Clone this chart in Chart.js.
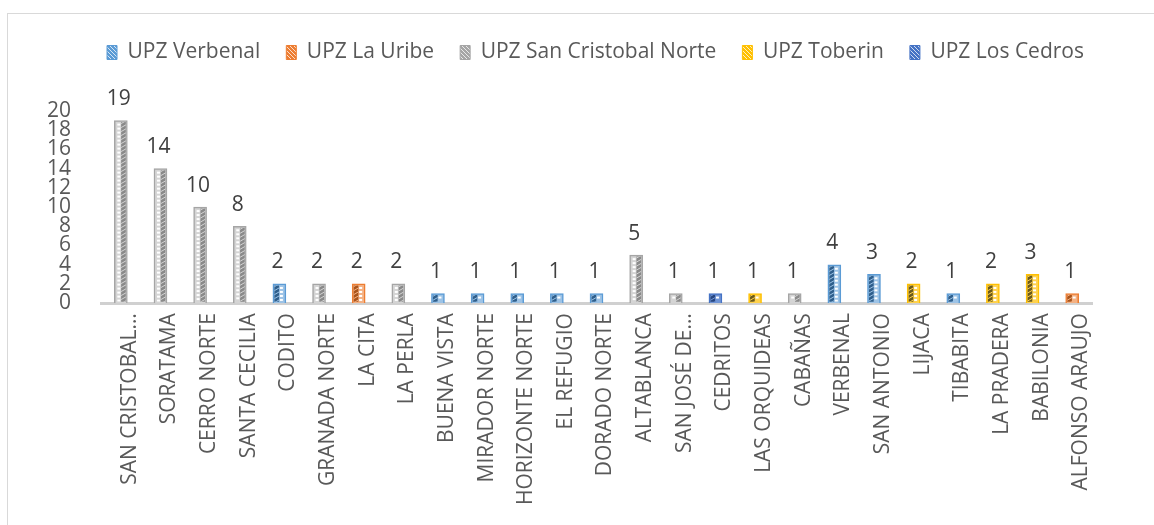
<!DOCTYPE html>
<html>
<head>
<meta charset="utf-8">
<script src="https://cdn.jsdelivr.net/npm/chart.js@4.4.1/dist/chart.umd.min.js"></script>
<style>
html, body { margin: 0; padding: 0; background: #fff; }
#wrap { position: relative; width: 1154px; height: 525px; overflow: hidden; }
#frame { position: absolute; left: 7px; top: 13px; width: 1300px; height: 700px; border: 1px solid #d9d9d9; }
canvas { position: absolute; left: 0; top: 0; }
</style>
</head>
<body>
<div id="wrap">
  <div id="frame"></div>
  <canvas id="chart" width="1154" height="525"></canvas>
</div>
<script>
// Data
const barrios = ['SAN CRISTOBAL…', 'SORATAMA', 'CERRO NORTE', 'SANTA CECILIA', 'CODITO', 'GRANADA NORTE',
    'LA CITA', 'LA PERLA', 'BUENA VISTA', 'MIRADOR NORTE', 'HORIZONTE NORTE', 'EL REFUGIO', 'DORADO NORTE',
    'ALTABLANCA', 'SAN JOSÉ DE…', 'CEDRITOS', 'LAS ORQUIDEAS', 'CABAÑAS', 'VERBENAL', 'SAN ANTONIO',
    'LIJACA', 'TIBABITA', 'LA PRADERA', 'BABILONIA', 'ALFONSO ARAUJO'];
const casos = [19, 14, 10, 8, 2, 2, 2, 2, 1, 1, 1, 1, 1, 5, 1, 1, 1, 1, 4, 3, 2, 1, 2, 3, 1];
// index into upzNombres for each barrio
const upzDeBarrio = [2, 2, 2, 2, 0, 2, 1, 2, 0, 0, 0, 0, 0, 2, 2, 4, 3, 2, 0, 0, 3, 0, 3, 3, 1];
const upzNombres = ['UPZ Verbenal', 'UPZ La Uribe', 'UPZ San Cristobal Norte', 'UPZ Toberin', 'UPZ Los Cedros'];
const yMin = 0, yMax = 20, yStep = 2;

// Styles per UPZ
const estilos = [
    { fondo: '#9dc3e6', borde: '#5b9bd5', oscuro: '#2f5f8c', ladoOscuro: 'left' },
    { fondo: '#f4b183', borde: '#ed7d31', oscuro: '#a9541b', ladoOscuro: 'left' },
    { fondo: '#d4d4d4', borde: '#a5a5a5', oscuro: '#8a8a8a', ladoOscuro: 'right' },
    { fondo: '#ffd24d', borde: '#ffc000', oscuro: '#6b5a1c', ladoOscuro: 'left' },
    { fondo: '#6f94d6', borde: '#4472c4', oscuro: '#27467f', ladoOscuro: 'left' }
];
const fuente = '"Open Sans", "DejaVu Sans", sans-serif';
const gris = '#595959';

function patronLeyenda(color) {
    const c = document.createElement('canvas');
    c.width = 4; c.height = 4;
    const g = c.getContext('2d');
    g.fillStyle = color;
    g.fillRect(0, 0, 4, 4);
    g.fillStyle = 'rgba(255,255,255,0.75)';
    g.fillRect(0, 0, 1, 1);
    g.fillRect(1, 1, 1, 1);
    g.fillRect(2, 2, 1, 1);
    g.fillRect(3, 3, 1, 1);
    return g.createPattern(c, 'repeat');
}

const datasets = upzNombres.map((nombre, s) => ({
    label: nombre,
    data: casos.map((v, i) => upzDeBarrio[i] === s ? v : null),
    backgroundColor: estilos[s].fondo,
    borderColor: estilos[s].borde,
    borderWidth: 1.5,
    barThickness: 13,
    grouped: false
}));

// Bar texture + value labels
const barrasPlugin = {
    id: 'barras',
    afterDatasetsDraw(chart) {
        const ctx = chart.ctx;
        chart.data.datasets.forEach((ds, s) => {
            const meta = chart.getDatasetMeta(s);
            const st = estilos[s];
            meta.data.forEach((el, i) => {
                const v = ds.data[i];
                if (v === null) return;
                const w = el.width, x0 = el.x - w / 2, top = el.y, base = el.base;
                ctx.save();
                ctx.beginPath();
                ctx.rect(x0 + 1.5, top + 1.5, w - 3, base - top - 3);
                ctx.clip();
                const ancho = w * 0.4;
                const xd = st.ladoOscuro === 'right' ? x0 + w - ancho - 1 : x0 + 1;
                const xl = st.ladoOscuro === 'right' ? x0 + 3 : x0 + w - 6;
                ctx.fillStyle = st.oscuro;
                ctx.fillRect(xd, top, ancho, base - top);
                ctx.strokeStyle = st.fondo;
                ctx.lineWidth = 1;
                for (let y = top; y < base + 4; y += 4) {
                    ctx.beginPath();
                    ctx.moveTo(xd, y + 3);
                    ctx.lineTo(xd + ancho, y);
                    ctx.stroke();
                }
                ctx.fillStyle = '#ffffff';
                for (let y = top + 3; y < base - 3; y += 4) {
                    ctx.fillRect(xl, y, 3, 2);
                }
                ctx.restore();

                ctx.save();
                ctx.fillStyle = '#404040';
                ctx.font = '21px ' + fuente;
                ctx.textAlign = 'center';
                ctx.textBaseline = 'bottom';
                ctx.fillText(String(v), el.x - 2, top - 11);
                ctx.restore();
            });
        });
    }
};

// Extra space under the legend, and legend nudged right
const margenLeyenda = {
    id: 'margenLeyenda',
    beforeInit(chart) {
        const fit = chart.legend.fit;
        chart.legend.fit = function () {
            fit.bind(chart.legend)();
            this.height += 38;
        };
    },
    afterLayout(chart) {
        chart.legend.left += 37;
        chart.legend.right += 37;
    }
};

new Chart(document.getElementById('chart').getContext('2d'), {
    type: 'bar',
    data: { labels: barrios, datasets: datasets },
    options: {
        responsive: false,
        animation: false,
        layout: { padding: { left: 25, right: 62, top: 16, bottom: 18 } },
        scales: {
            x: {
                grid: { display: false },
                border: { display: true, color: '#d0d0d0', width: 3 },
                ticks: {
                    autoSkip: false,
                    minRotation: 90,
                    maxRotation: 90,
                    padding: 2,
                    labelOffset: 9,
                    color: gris,
                    font: { family: fuente, size: 21 }
                }
            },
            y: {
                min: yMin,
                max: yMax,
                grid: { display: false },
                border: { display: false },
                ticks: {
                    stepSize: yStep,
                    autoSkip: false,
                    padding: 22,
                    color: gris,
                    font: { family: fuente, size: 21, lineHeight: 1 }
                }
            }
        },
        plugins: {
            legend: {
                display: true,
                position: 'top',
                labels: {
                    color: gris,
                    boxWidth: 10,
                    boxHeight: 14,
                    padding: 26,
                    font: { family: fuente, size: 21 },
                    generateLabels(chart) {
                        return chart.data.datasets.map((ds, s) => ({
                            text: ds.label,
                            fillStyle: patronLeyenda(estilos[s].borde),
                            strokeStyle: estilos[s].borde,
                            lineWidth: 1,
                            fontColor: gris,
                            hidden: false,
                            datasetIndex: s
                        }));
                    }
                }
            },
            tooltip: { enabled: false }
        }
    },
    plugins: [margenLeyenda, barrasPlugin]
});
</script>
</body>
</html>
